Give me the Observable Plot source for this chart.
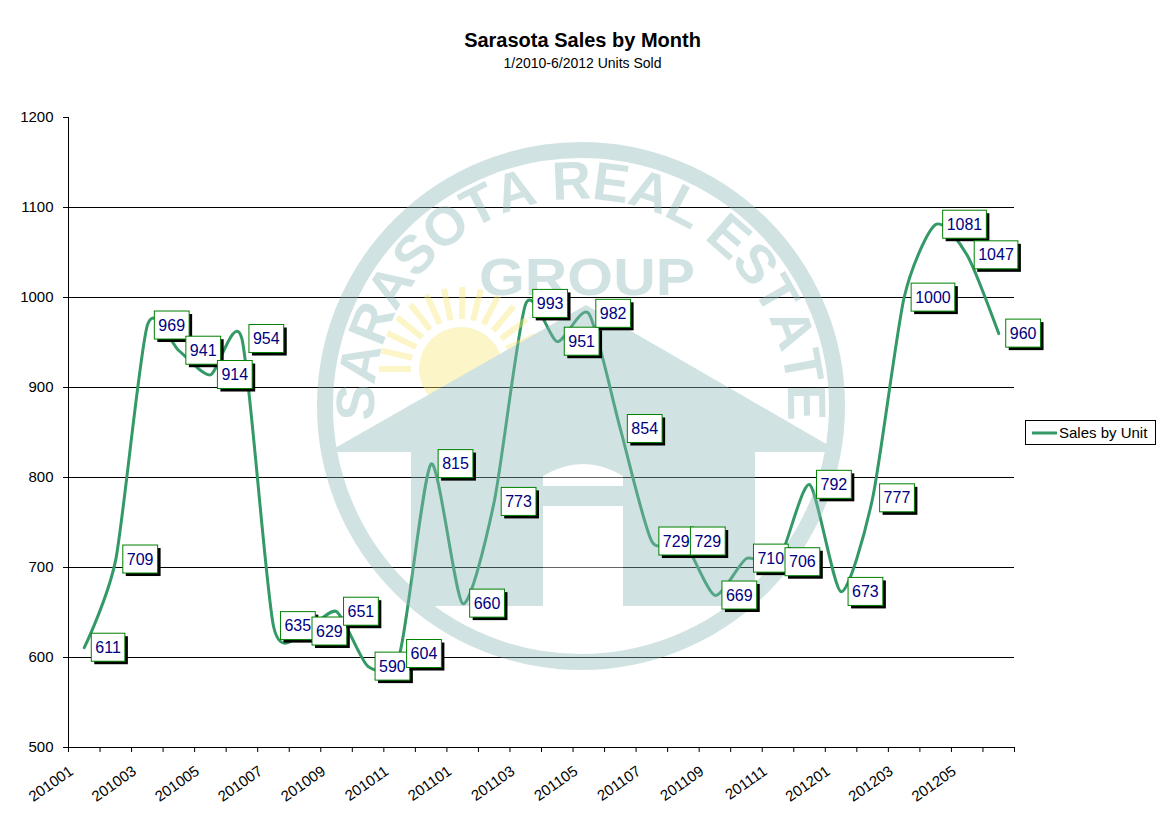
<!DOCTYPE html>
<html>
<head>
<meta charset="utf-8">
<script src="https://cdn.jsdelivr.net/npm/d3@7"></script>
<script src="https://cdn.jsdelivr.net/npm/@observablehq/plot@0.6"></script>
<style>
  html, body { margin: 0; padding: 0; background: #fff; }
  body { width: 1165px; height: 816px; overflow: hidden; font-family: "Liberation Sans", Arial, sans-serif; }
  #wrap { position: relative; width: 1165px; height: 816px; }
  #header { position: relative; height: 80px; width: 1165px; }
  .title { position: absolute; left: 0; width: 1165px; text-align: center; top: 30px; font-size: 20px; line-height: 20px; font-weight: bold; color: #000; }
  .subtitle { position: absolute; left: 0; width: 1165px; text-align: center; top: 56px; font-size: 14px; line-height: 14px; color: #000; }
  #legend { position: absolute; left: 1025px; top: 420px; width: 129px; height: 23px; border: 1px solid #000; background: #fff; }
  #legend svg { position: absolute; left: 0; top: 0; }
  #legend span { position: absolute; left: 33px; top: 4px; font-size: 15px; line-height: 15px; white-space: nowrap; }
</style>
</head>
<body>
<div id="wrap">
  <div id="header">
    <div class="title">Sarasota Sales by Month</div>
    <div class="subtitle">1/2010-6/2012 Units Sold</div>
  </div>
  <div id="chart"></div>
  <div id="legend">
    <svg width="32" height="23"><line x1="6" x2="31" y1="12" y2="12" stroke="#339966" stroke-width="3"></line></svg>
    <span>Sales by Unit</span>
  </div>
</div>
<script>
// ---- data ----
const months = ["201001","201002","201003","201004","201005","201006","201007","201008","201009","201010","201011","201012",
                "201101","201102","201103","201104","201105","201106","201107","201108","201109","201110","201111","201112",
                "201201","201202","201203","201204","201205","201206"];
const sales = [611,709,969,941,914,954,635,629,651,590,604,815,
               660,773,993,951,982,854,729,729,669,710,706,792,
               673,777,1000,1081,1047,960];
const yTicks = [500,600,700,800,900,1000,1100,1200];
const gridValues = [600,700,800,900,1000,1100];
const seriesName = "Sales by Unit";

const data = months.map((m, i) => ({month: m, i, pos: i + 0.5, value: sales[i]}));
const xLabelRows = data.filter(d => d.i % 2 === 0);
const boundaries = d3.range(0, months.length + 1);

const FONT = "'Liberation Sans', Arial, sans-serif";
const LINE_COLOR = "#339966";

const chart = Plot.plot({
  width: 1165,
  height: 736,
  marginTop: 37,
  marginBottom: 69,
  marginLeft: 68,
  marginRight: 151,
  x: {domain: [0, months.length]},
  y: {domain: [500, 1200]},
  style: {fontFamily: FONT, fontSize: "15px", background: "white", color: "black"},
  marks: [
    Plot.ruleY(gridValues, {stroke: "black", strokeWidth: 1}),
    Plot.ruleY([500], {stroke: "black", strokeWidth: 1}),
    Plot.ruleX([0], {stroke: "black", strokeWidth: 1}),
    Plot.axisX(boundaries, {tickSize: 5, tickFormat: () => "", label: null, stroke: "black", strokeOpacity: 1}),
    Plot.axisY(yTicks, {tickSize: 5, tickPadding: 10, label: null, fontSize: 15, tickFormat: d => String(d),
                        stroke: "black", strokeOpacity: 1, fill: "black"}),
    Plot.line(data, {x: "pos", y: "value", curve: "cardinal", tension: 0.3, stroke: LINE_COLOR, strokeWidth: 3}),
    Plot.text(data, {x: "pos", y: "value", text: d => String(d.value), dx: 11, textAnchor: "start",
                     fill: "#000080", fontSize: 16}),
    Plot.text(xLabelRows, {x: "pos", frameAnchor: "bottom", text: "month", rotate: -35, textAnchor: "end",
                           lineAnchor: "bottom", dx: -10, dy: 26, fontSize: 15, fill: "black"})
  ]
});

document.getElementById("chart").appendChild(chart);

const NS = "http://www.w3.org/2000/svg";
function el(name, attrs, parent) {
  const e = document.createElementNS(NS, name);
  for (const k in attrs) e.setAttribute(k, attrs[k]);
  if (parent) parent.appendChild(e);
  return e;
}
const textGroups = chart.querySelectorAll('g[aria-label="text"]');
const labelG = textGroups[0];

// ---- watermark (decorative, semi-transparent overlay) ----
const wm = el("g", {opacity: 0.4, "pointer-events": "none"});
const teal = "rgb(140,185,185)";
const cx = 581, cy = 326;
const sunC = [461, 289];
for (let a = 180; a <= 345; a += 13) {
  const r = a * Math.PI / 180;
  el("line", {x1: sunC[0] + 50 * Math.cos(r), y1: sunC[1] + 50 * Math.sin(r),
              x2: sunC[0] + 82 * Math.cos(r), y2: sunC[1] + 82 * Math.sin(r),
              stroke: "rgb(247,232,117)", "stroke-width": 6}, wm);
}
el("circle", {cx: sunC[0], cy: sunC[1], r: 42, fill: "rgb(247,232,117)"}, wm);
el("circle", {cx, cy, r: 256, fill: "none", stroke: teal, "stroke-width": 16}, wm);
if (labelG) chart.insertBefore(wm, labelG); else chart.appendChild(wm);

// arc text, letter by letter
const arcStr = "SARASOTA REAL ESTATE";
const arcFont = 54, r0 = 207;
const probe = el("text", {"font-family": FONT, "font-weight": "bold", "font-size": arcFont}, wm);
const widths = [...arcStr].map(ch => { probe.textContent = ch === " " ? "\u00a0" : ch; return probe.getComputedTextLength(); });
probe.remove();
const totalW = d3.sum(widths);
const startA = 176, endA = 364;
let acc = 0;
[...arcStr].forEach((ch, k) => {
  const mid = (acc + widths[k] / 2) / totalW;
  acc += widths[k];
  if (ch === " ") return;
  const ang = startA + mid * (endA - startA);
  const rad = ang * Math.PI / 180;
  const px = cx + r0 * Math.cos(rad), py = cy + r0 * Math.sin(rad);
  const t = el("text", {transform: `translate(${px},${py}) rotate(${ang + 90})`, "text-anchor": "middle",
                        "font-family": FONT, "font-weight": "bold", "font-size": arcFont, fill: teal}, wm);
  t.textContent = ch;
});
const grp = el("text", {x: 587, y: 215, "text-anchor": "middle", "font-family": FONT, "font-weight": "bold",
                        "font-size": 52, fill: teal, textLength: 216, lengthAdjust: "spacingAndGlyphs"}, wm);
grp.textContent = "GROUP";
el("polygon", {points: "328,372 586,225 840,372", fill: teal}, wm);
el("rect", {x: 411, y: 371, width: 344, height: 155, fill: teal}, wm);
el("path", {d: "M543,406 L543,396 Q583,372 623,396 L623,406 Z", fill: "white"}, wm);
el("rect", {x: 543, y: 426, width: 80, height: 100, fill: "white"}, wm);

// ---- data label boxes (excel style, with shadow) ----
if (labelG) {
  labelG.querySelectorAll("text").forEach(t => {
    const b = t.getBBox();
    const tr = t.getAttribute("transform") || "";
    const yc = b.y + b.height / 2;
    const x = b.x - 4, w = b.width + 8, y = yc - 14, h = 28;
    const sh = el("rect", {x: x + 3, y: y + 3, width: w, height: h, fill: "black", transform: tr});
    const bx = el("rect", {x, y, width: w, height: h, fill: "white", stroke: "#008000", "stroke-width": 1, transform: tr});
    t.parentNode.insertBefore(sh, t);
    t.parentNode.insertBefore(bx, t);
  });
}
</script>
</body>
</html>
